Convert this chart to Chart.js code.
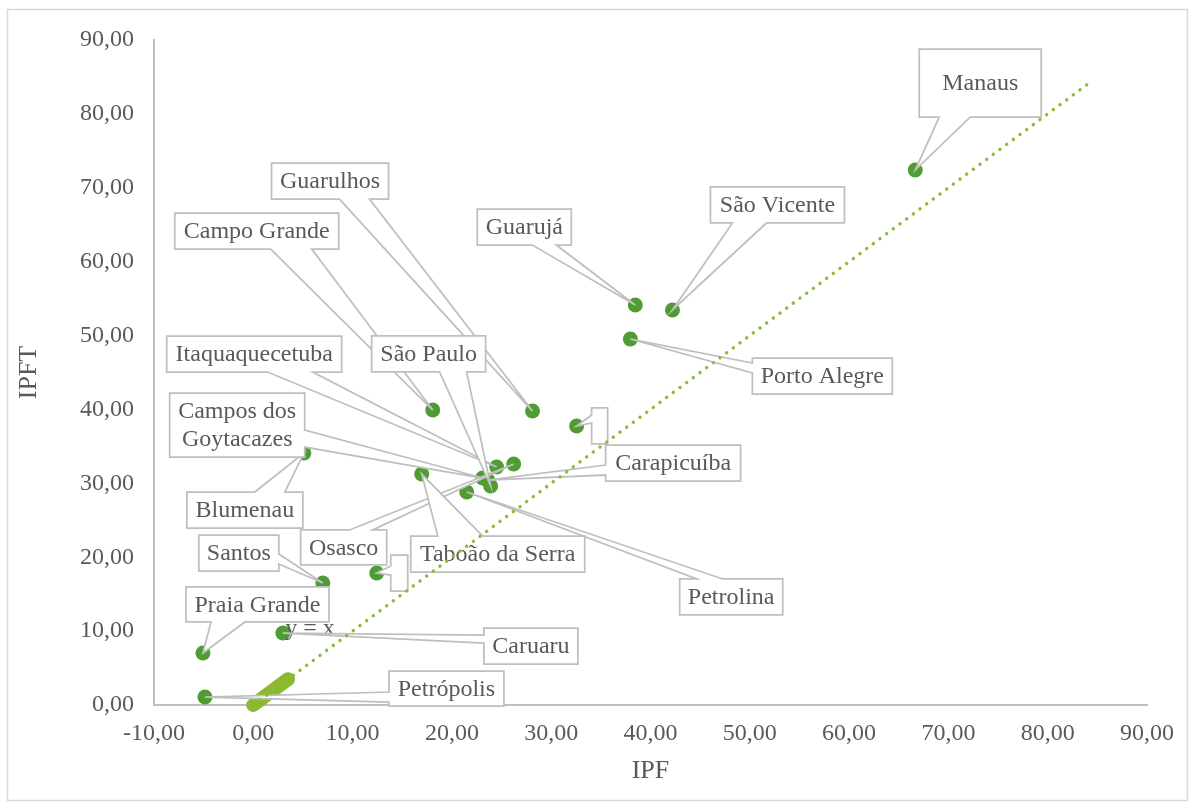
<!DOCTYPE html>
<html>
<head>
<meta charset="utf-8">
<script src="https://cdn.jsdelivr.net/npm/chart.js@4"></script>
<style>
html,body{margin:0;padding:0;background:#fff;}
#wrap{width:1194px;height:809px;position:relative;}
canvas{display:block;}
</style>
</head>
<body>
<div id="wrap"><canvas id="c" width="1194" height="809"></canvas></div>
<script>
// ---------- DATA ----------
const cities = ["Manaus","São Vicente","Guarujá","Porto Alegre","Guarulhos","Campo Grande","",
  "Blumenau","Osasco","Itaquaquecetuba","Campos dos\nGoytacazes","Carapicuíba","São Paulo","Petrolina",
  "Taboão da Serra","","Santos","Caruaru","Praia Grande","Petrópolis"];
const ipf  = [66.66, 42.21, 38.47, 37.97, 28.12, 18.07, 32.56, 5.09, 26.22, 24.51, 23.10, 23.60, 23.90, 21.49, 16.96, 12.43, 7.00, 2.98, -5.07, -4.87];
const ipft = [72.40, 53.46, 54.13, 49.53, 39.78, 39.92, 37.76, 34.10, 32.62, 32.21, 30.72, 30.45, 29.64, 28.83, 31.26, 17.86, 16.51, 9.74, 7.04, 1.08];
// y = x reference
const refMarkX = [0, 3.5];
const refMarkY = [0, 3.5];
const refLineX = [0, 84];
const refLineY = [0, 84];
const refLabel = "y = x";
// ticks
const xTickValues = [-10, 0, 10, 20, 30, 40, 50, 60, 70, 80, 90];
const yTickValues = [0, 10, 20, 30, 40, 50, 60, 70, 80, 90];
const xTitle = "IPF";
const yTitle = "IPFT";

// ---------- LAYOUT (label callouts, pixel offsets from the point) ----------
// box: [left, top, right, bottom]; wedge: [ax, ay, bx, by]
const calloutLayout = [
  {box:[4,-121,126,-53],   wedge:[24,-53,55,-53]},
  {box:[38,-123,172,-87],  wedge:[60,-87,94,-87]},
  {box:[-158,-96,-64,-60], wedge:[-103,-60,-79,-60]},
  {box:[122,19,262,55],    wedge:[122,24,122,34]},
  {box:[-261,-248,-144,-212], wedge:[-193,-212,-163,-212]},
  {box:[-258,-197,-94,-161],  wedge:[-162,-161,-121,-161]},
  {box:[15,-18,31,18],     wedge:[15,-11,15,-3]},
  {box:[-117,39,-1,75],    wedge:[-49,39,-19,39]},
  {box:[-213,66,-127,101], wedge:[-164,66,-141,66]},
  {box:[-330,-131,-155,-95], wedge:[-229,-95,-184,-95]},
  {box:[-313,-85,-178,-21],  wedge:[-178,-48,-178,-31]},
  {box:[118,-35,253,1],    wedge:[118,-15,118,-5]},
  {box:[-119,-150,-5,-114], wedge:[-51,-114,-24,-114]},
  {box:[213,87,316,123],   wedge:[230,87,256,87]},
  {box:[-11,62,163,98],    wedge:[16,62,61,62]},
  {box:[14,-18,31,18],     wedge:[14,-7,14,2]},
  {box:[-124,-48,-44,-12], wedge:[-44,-29,-44,-19]},
  {box:[201,-5,295,31],    wedge:[201,2,201,10]},
  {box:[-17,-66,126,-31],  wedge:[8,-31,42,-31]},
  {box:[184,-26,299,9],    wedge:[184,-5,184,5]}
];
const refLabelPos = [5.7, 9.5];

const TEXT = '#595959';
const LINE = '#BFBFBF';
const SERIF = '"Liberation Serif", "Times New Roman", serif';
const fmt = v => v.toFixed(2).replace('.', ',');

const pointsData = ipf.map((x, i) => ({x, y: ipft[i]}));
const markData = refMarkX.map((x, i) => ({x, y: refMarkY[i]}));
const lineData = refLineX.map((x, i) => ({x, y: refLineY[i]}));

function calloutPath(ctx, L, px, py) {
  const [l, t, r, b] = L.box.map((v, k) => v + (k % 2 === 0 ? px : py));
  let [ax, ay, bx, by] = L.wedge;
  ax += px; bx += px; ay += py; by += py;
  let edge;
  if (Math.abs(ay - t) < 0.5 && Math.abs(by - t) < 0.5) edge = 'top';
  else if (Math.abs(ay - b) < 0.5 && Math.abs(by - b) < 0.5) edge = 'bottom';
  else if (Math.abs(ax - l) < 0.5) edge = 'left';
  else edge = 'right';
  ctx.beginPath();
  ctx.moveTo(l, t);
  if (edge === 'top') { const p = ax < bx ? [ax, bx] : [bx, ax]; ctx.lineTo(p[0], t); ctx.lineTo(px, py); ctx.lineTo(p[1], t); }
  ctx.lineTo(r, t);
  if (edge === 'right') { const p = ay < by ? [ay, by] : [by, ay]; ctx.lineTo(r, p[0]); ctx.lineTo(px, py); ctx.lineTo(r, p[1]); }
  ctx.lineTo(r, b);
  if (edge === 'bottom') { const p = ax > bx ? [ax, bx] : [bx, ax]; ctx.lineTo(p[0], b); ctx.lineTo(px, py); ctx.lineTo(p[1], b); }
  ctx.lineTo(l, b);
  if (edge === 'left') { const p = ay > by ? [ay, by] : [by, ay]; ctx.lineTo(l, p[0]); ctx.lineTo(px, py); ctx.lineTo(l, p[1]); }
  ctx.closePath();
  return {l, t, r, b};
}

function drawCallouts(chart) {
  const ctx = chart.ctx;
  const xs = chart.scales.x, ys = chart.scales.y;
  ctx.save();
  ctx.font = '24px ' + SERIF;
  ctx.fillStyle = TEXT;
  ctx.textAlign = 'center';
  ctx.textBaseline = 'alphabetic';
  ctx.fillText(refLabel, xs.getPixelForValue(refLabelPos[0]), ys.getPixelForValue(refLabelPos[1]));

  ctx.lineWidth = 1.75;
  ctx.lineJoin = 'miter';
  cities.forEach((name, i) => {
    const px = xs.getPixelForValue(ipf[i]);
    const py = ys.getPixelForValue(ipft[i]);
    const box = calloutPath(ctx, calloutLayout[i], px, py);
    ctx.fillStyle = '#fff';
    ctx.fill();
    ctx.strokeStyle = LINE;
    ctx.stroke();
    const lines = name.split('\n');
    ctx.fillStyle = TEXT;
    ctx.textBaseline = 'middle';
    ctx.textAlign = 'center';
    const cx = (box.l + box.r) / 2, cy = (box.t + box.b) / 2;
    const lh = 28;
    lines.forEach((ln, k) => {
      ctx.fillText(ln, cx, cy + (k - (lines.length - 1) / 2) * lh + 1);
    });
  });
  ctx.restore();
}

const calloutPlugin = {
  id: 'callouts',
  beforeDraw(chart) {
    const ctx = chart.ctx;
    ctx.save();
    ctx.fillStyle = '#fff';
    ctx.fillRect(0, 0, chart.width, chart.height);
    ctx.strokeStyle = '#D9D9D9';
    ctx.lineWidth = 1.5;
    ctx.strokeRect(7.5, 9.5, 1180, 791);
    ctx.restore();
  },
  afterDatasetDraw(chart, args) {
    if (args.index === 0) drawCallouts(chart);
  }
};

new Chart(document.getElementById('c'), {
  type: 'scatter',
  data: {
    datasets: [
      {
        label: 'IPFT',
        data: pointsData,
        backgroundColor: '#4F9D32',
        borderColor: '#4F9D32',
        pointRadius: 7.5,
        pointHoverRadius: 7.5,
        borderWidth: 0,
        clip: false,
        order: 1
      },
      {
        label: refLabel,
        type: 'line',
        data: lineData,
        borderColor: '#8CBD3A',
        borderWidth: 3.5,
        borderDash: [0.01, 8.3],
        borderCapStyle: 'round',
        pointRadius: 0,
        fill: false,
        clip: false,
        order: 0
      },
      {
        label: 'marks',
        type: 'line',
        data: markData,
        borderColor: '#8DB930',
        borderWidth: 14,
        borderCapStyle: 'round',
        pointRadius: 0,
        fill: false,
        clip: false,
        order: 2
      }
    ]
  },
  options: {
    responsive: false,
    devicePixelRatio: 1,
    animation: false,
    events: [],
    layout: {padding: {left: 0, top: 40, right: 47, bottom: 0}},
    plugins: {legend: {display: false}, tooltip: {enabled: false}},
    scales: {
      x: {
        type: 'linear',
        min: -10, max: 90,
        afterBuildTicks: s => { s.ticks = xTickValues.map(v => ({value: v})); },
        afterFit: s => { s.height = 104; },
        grid: {display: false, drawTicks: false},
        border: {display: true, color: LINE, width: 2},
        ticks: {
          padding: 14,
          color: TEXT,
          font: {family: SERIF, size: 24},
          maxRotation: 0,
          autoSkip: false,
          callback: v => fmt(v)
        },
        title: {display: true, text: xTitle, color: TEXT, font: {family: SERIF, size: 26}, padding: {top: 0, bottom: 22}}
      },
      y: {
        type: 'linear',
        min: 0, max: 90,
        afterBuildTicks: s => { s.ticks = yTickValues.map(v => ({value: v})); },
        afterFit: s => { s.width = 154; },
        grid: {display: false, drawTicks: false},
        border: {display: true, color: LINE, width: 2},
        ticks: {
          padding: 20,
          color: TEXT,
          font: {family: SERIF, size: 24},
          autoSkip: false,
          callback: v => fmt(v)
        },
        title: {display: true, text: yTitle, color: TEXT, font: {family: SERIF, size: 26}, padding: {top: 14, bottom: 0}}
      }
    }
  },
  plugins: [calloutPlugin]
});
</script>
</body>
</html>
